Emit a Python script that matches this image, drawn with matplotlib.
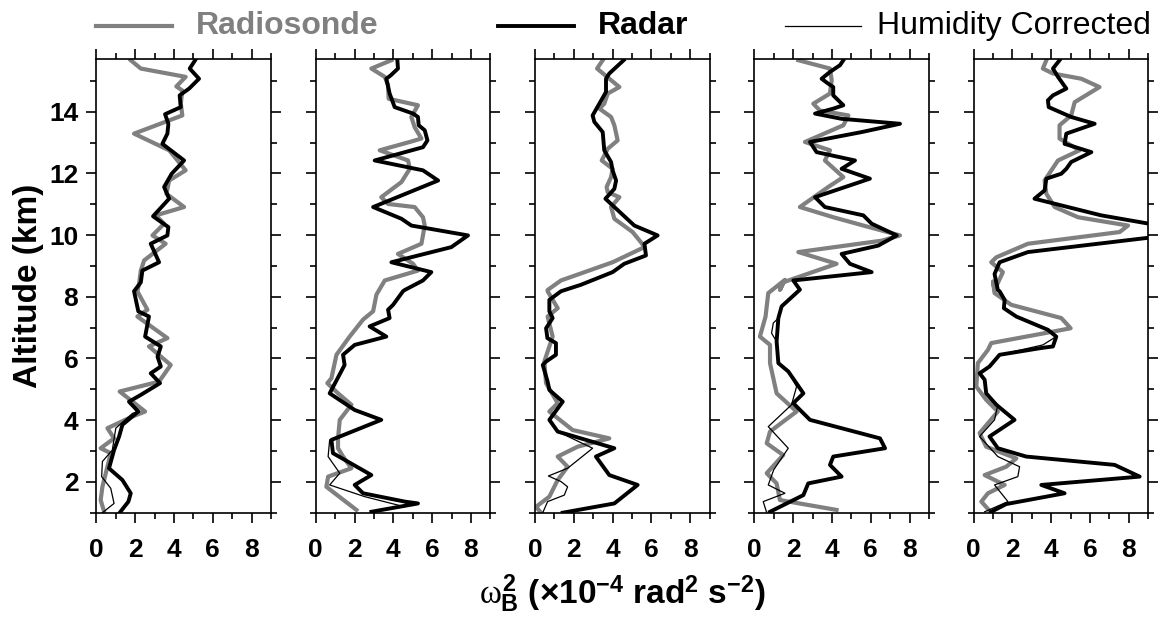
import matplotlib
matplotlib.use("Agg")
import matplotlib.pyplot as plt
from matplotlib.lines import Line2D
from matplotlib.ticker import MultipleLocator

plt.rcParams['font.family'] = ['Liberation Sans', 'DejaVu Sans']
plt.rcParams['mathtext.fontset'] = 'custom'
plt.rcParams['mathtext.rm'] = 'Liberation Sans:bold'
plt.rcParams['mathtext.bf'] = 'Liberation Sans:bold'
plt.rcParams['mathtext.it'] = 'Liberation Serif'

# ---- data: (omega_B^2, altitude km) ----
# panel 1
sonde1_x = [1.77, 2.29, 4.60, 4.12, 4.43, 4.35, 4.43, 1.94, 3.75, 4.60, 3.75, 3.61, 4.52, 3.06, 3.49, 2.89, 3.57, 2.46, 2.29, 2.20,
            2.11, 2.63, 2.11, 3.66, 2.71, 3.83, 3.23, 1.20, 2.51, 1.86, 0.57, 0.91, 0.22, 0.74, 0.31, 0.22, 0.40]
sonde1_z = [15.67, 15.4, 15.13, 14.82, 14.69, 14.26, 13.88, 13.29, 12.75, 12.10, 11.77, 11.34, 10.91, 10.64, 10.37, 9.99, 9.72, 9.18, 8.85, 8.42,
            8.18, 7.58, 7.36, 6.66, 6.39, 5.79, 5.25, 4.93, 4.28, 4.12, 3.74, 3.41, 3.09, 2.93, 1.84, 1.41, 1.03]
radar1_x = [5.09, 4.81, 5.29, 4.78, 4.29, 4.35, 3.54, 3.71, 3.66, 3.40, 4.52, 3.88, 3.49, 3.75, 2.92, 3.71, 3.66, 2.80, 3.23, 2.37, 2.29,
            1.94, 2.16, 2.71, 2.51, 3.32, 3.15, 3.32, 2.80, 3.28, 2.29, 1.68, 2.16, 1.34, 1.17, 0.91, 0.65, 1.34, 1.77, 1.65, 1.20]
radar1_z = [15.67, 15.4, 15.07, 14.75, 14.53, 14.15, 13.92, 13.61, 13.29, 12.96, 12.42, 11.99, 11.56, 11.18, 10.61, 10.26, 9.99, 9.72, 9.12, 8.85, 8.47,
            8.18, 7.53, 7.36, 6.71, 6.39, 6.06, 5.74, 5.52, 5.20, 4.82, 4.60, 4.28, 3.85, 3.47, 3.03, 2.44, 2.06, 1.63, 1.36, 1.0]
humid1_x = [2.16, 1.86, 1.00, 0.82, 0.31, 0.27, 0.74, 0.91, 0.31]
humid1_z = [4.28, 4.22, 3.74, 3.03, 2.66, 2.17, 1.79, 1.30, 1.0]

# panel 2
sonde2_x = [3.90, 2.87, 3.56, 3.73, 3.76, 5.27, 4.93, 5.10, 5.45, 4.85, 3.30, 4.76, 4.85, 4.42, 3.38, 3.73, 5.10, 5.53, 5.62, 5.45, 4.24, 5.02, 5.27, 3.56,
            3.13, 2.96, 2.44, 1.75, 1.07, 0.81, 0.60, 1.15, 1.84, 1.24, 1.15, 1.15, 1.41, 1.84, 0.64, 0.55, 2.10]
sonde2_z = [15.67, 15.4, 15.13, 14.86, 14.42, 14.21, 13.83, 13.50, 13.13, 13.02, 12.75, 12.42, 12.15, 11.72, 11.23, 11.01, 10.91, 10.58, 10.31, 9.72, 9.39, 9.07, 8.85, 8.53,
            8.07, 7.53, 7.26, 6.71, 6.12, 5.36, 5.20, 4.87, 4.50, 4.01, 3.41, 3.09, 2.82, 2.44, 2.17, 1.84, 1.09]
radar2_x = [4.21, 4.24, 3.87, 3.64, 3.81, 4.07, 5.02, 5.27, 5.31, 5.62, 5.76, 5.53, 3.04, 5.53, 6.31, 2.96, 4.42, 4.93, 7.85, 6.99, 3.90, 5.96, 5.53, 4.59,
            4.50, 3.99, 3.73, 3.81, 2.78, 3.64, 2.01, 1.41, 1.49, 0.72, 2.01, 3.38, 0.81, 0.89, 2.87, 2.01, 2.44, 4.59, 5.27, 2.87]
radar2_z = [15.67, 15.4, 15.18, 15.07, 14.59, 14.15, 13.94, 13.83, 13.56, 13.40, 13.07, 12.85, 12.42, 12.10, 11.77, 10.91, 10.53, 10.31, 9.99, 9.61, 9.12, 8.80, 8.53, 8.22,
            8.18, 7.74, 7.58, 7.31, 7.04, 6.71, 6.44, 6.12, 5.79, 4.87, 4.33, 4.01, 3.36, 2.93, 2.22, 1.90, 1.63, 1.36, 1.30, 1.03]
humid2_x = [3.38, 0.72, 0.64, 1.24, 0.72, 2.53, 4.59, 2.87]
humid2_z = [4.01, 3.36, 2.82, 2.28, 1.90, 1.52, 1.19, 1.03]

# panel 3
sonde3_x = [3.49, 3.20, 4.35, 3.75, 3.57, 3.32, 3.92, 4.09, 4.26, 3.75, 3.44, 4.00, 3.92, 3.69, 3.75, 4.35, 3.92, 4.09, 5.03, 5.46, 5.64, 4.00, 1.34, 0.65,
            0.65, 1.17, 0.65, 0.91, 0.48, 0.57, 1.17, 0.74, 1.94, 3.83, 2.20, 1.17, 1.68, 1.17, 0.74, 0.05, 0.31]
sonde3_z = [15.67, 15.4, 14.80, 14.59, 14.26, 14.10, 13.83, 13.56, 13.07, 12.80, 12.42, 12.15, 11.88, 11.56, 11.39, 11.23, 10.91, 10.53, 10.10, 9.77, 9.61, 9.12, 8.53, 8.22,
            8.18, 7.63, 7.36, 6.71, 5.90, 5.20, 4.55, 4.28, 3.68, 3.41, 3.14, 2.82, 2.49, 2.06, 1.52, 1.19, 1.0]
radar3_x = [4.57, 3.83, 3.66, 3.66, 2.97, 3.06, 3.49, 3.57, 3.92, 4.00, 4.18, 4.09, 3.63, 3.92, 5.12, 6.32, 5.64, 5.72, 4.60, 4.00, 2.37,
            1.34, 0.74, 0.74, 0.91, 0.57, 0.64, 1.08, 1.08, 0.57, 0.40, 0.65, 0.74, 1.43, 0.74, 1.17, 4.09, 3.14, 3.83, 5.29, 4.09, 1.43]
radar3_z = [15.67, 15.24, 15.07, 14.64, 13.88, 13.67, 13.34, 12.75, 12.37, 12.10, 11.77, 11.50, 11.18, 11.01, 10.31, 9.99, 9.72, 9.34, 9.07, 8.80, 8.39,
            8.18, 7.90, 7.53, 7.31, 6.98, 6.66, 6.50, 6.12, 5.90, 5.79, 5.25, 4.98, 4.60, 4.01, 3.63, 3.09, 2.82, 2.22, 1.90, 1.30, 1.0]
humid3_x = [1.17, 2.97, 1.68, 0.69, 1.34, 1.68, 1.51, 0.65, 0.40]
humid3_z = [3.63, 3.09, 2.44, 2.19, 2.01, 1.84, 1.57, 1.36, 1.0]

# panel 4
sonde4_x = [2.27, 3.90, 3.99, 3.90, 3.04, 3.38, 4.85, 4.59, 2.61, 3.90, 3.64, 4.59, 3.81, 2.35, 4.07, 5.62, 7.51, 6.57, 2.27, 4.24, 1.49, 1.32,
            1.58, 0.72, 0.58, 0.29, 0.81, 0.81, 1.15, 2.18, 0.81, 0.64, 1.49, 0.64, 1.15, 1.32, 4.24]
sonde4_z = [15.67, 15.40, 15.02, 14.59, 14.26, 14.04, 13.88, 13.56, 13.02, 12.75, 12.42, 11.88, 11.56, 10.91, 10.58, 10.31, 9.99, 9.82, 9.45, 9.07, 8.47, 8.22,
            8.55, 8.12, 7.36, 6.71, 6.44, 5.85, 4.87, 4.28, 3.63, 3.25, 2.87, 2.28, 1.95, 1.41, 1.09]
radar4_x = [4.59, 4.42, 3.90, 3.47, 3.81, 4.07, 4.07, 4.59, 4.07, 3.13, 4.50, 7.51, 5.53, 2.87, 3.21, 5.19, 4.50, 5.96, 3.13, 3.64, 5.62, 6.05, 7.34, 6.39,
            4.50, 4.93, 6.05, 2.01, 2.10, 2.35, 1.41, 1.24, 1.15, 1.24, 1.75, 2.53, 2.01, 2.87, 6.48, 6.74, 4.07, 3.90, 4.50, 2.78, 2.53, 0.81]
radar4_z = [15.67, 15.51, 15.29, 15.07, 14.91, 14.80, 14.53, 14.21, 14.10, 13.94, 13.77, 13.61, 13.34, 13.02, 12.69, 12.42, 12.15, 11.83, 11.23, 10.91, 10.64, 10.37, 9.99, 9.66,
            9.39, 9.07, 8.80, 8.53, 8.45, 8.23, 7.69, 7.31, 6.55, 5.85, 5.58, 4.87, 4.55, 4.01, 3.41, 3.09, 2.82, 2.55, 2.17, 1.95, 1.57, 1.03]
humid4_x = [1.24, 0.98, 0.89, 1.15, 1.24, 1.75, 2.18, 1.92, 0.72, 1.75, 1.00, 0.72, 1.58, 0.46, 0.64]
humid4_z = [7.31, 7.15, 6.82, 6.55, 5.85, 5.58, 5.09, 4.50, 3.79, 3.09, 2.39, 1.90, 1.63, 1.36, 1.0]

# panel 5
sonde5_x = [3.75, 3.57, 4.09, 5.55, 6.49, 5.21, 5.03, 4.43, 4.43, 5.46, 4.35, 3.66, 3.75, 4.18, 5.38, 7.96, 7.53, 2.80, 1.17, 0.91, 1.51, 1.08,
            1.00, 1.08, 1.94, 4.52, 5.00, 3.66, 0.91, 0.74, 0.22, 0.14, 0.65, 1.25, 0.31, 0.65, 2.20, 1.68, 0.57, 1.60, 0.74, 0.40, 0.91]
sonde5_z = [15.67, 15.40, 15.24, 15.07, 14.80, 14.31, 13.88, 13.56, 13.13, 12.75, 12.42, 11.77, 11.34, 10.91, 10.58, 10.31, 10.10, 9.72, 9.28, 9.12, 8.80, 8.22,
            8.50, 8.12, 7.74, 7.31, 6.98, 6.82, 6.50, 6.28, 5.85, 5.09, 4.66, 4.28, 3.58, 3.14, 2.76, 2.49, 2.22, 1.90, 1.63, 1.36, 1.0]
radar5_x = [4.43, 4.09, 4.35, 4.78, 4.09, 3.83, 3.87, 5.03, 6.24, 4.78, 4.69, 6.07, 5.03, 4.78, 4.52, 3.75, 3.66, 3.14, 6.58, 11.5, 2.80, 1.34, 1.08, 1.25,
            1.34, 1.60, 1.56, 2.20, 3.83, 4.26, 4.09, 3.49, 1.34, 0.82, 0.31, 0.57, 0.65, 1.17, 2.11, 0.82, 1.25, 2.71, 7.27, 8.56, 3.49, 4.69, 1.68, 0.91]
radar5_z = [15.67, 15.40, 15.13, 14.75, 14.53, 14.37, 14.15, 13.83, 13.61, 13.29, 12.96, 12.69, 12.37, 12.15, 11.99, 11.83, 11.45, 11.18, 10.64, 10.10, 9.45, 9.12, 8.74, 8.22,
            8.18, 7.90, 7.63, 7.36, 6.93, 6.71, 6.39, 6.34, 6.12, 5.74, 5.52, 5.31, 4.87, 4.50, 4.01, 3.47, 3.09, 2.82, 2.55, 2.17, 1.90, 1.63, 1.28, 1.03]
humid5_x = [4.26, 3.57, 1.34, 0.82, 0.31, 0.57, 0.65, 1.25, 1.08, 0.31, 1.25, 2.37, 2.28, 1.08, 1.77, 0.57]
humid5_z = [6.71, 6.44, 6.12, 5.74, 5.52, 5.31, 4.87, 4.50, 4.01, 3.47, 2.82, 2.49, 2.17, 1.90, 1.36, 1.03]

panels = [
    (sonde1_x, sonde1_z, radar1_x, radar1_z, humid1_x, humid1_z),
    (sonde2_x, sonde2_z, radar2_x, radar2_z, humid2_x, humid2_z),
    (sonde3_x, sonde3_z, radar3_x, radar3_z, humid3_x, humid3_z),
    (sonde4_x, sonde4_z, radar4_x, radar4_z, humid4_x, humid4_z),
    (sonde5_x, sonde5_z, radar5_x, radar5_z, humid5_x, humid5_z),
]
legend_labels = ['Radiosonde', 'Radar', 'Humidity Corrected']

gray = '#808080'
fig = plt.figure(figsize=(11.61, 6.23), dpi=100)

W, H = 1161.0, 623.0
ax_w = 174.6 / W
ax_h = (512.7 - 59.3) / H
ax_b = (H - 512.7) / H

for i, (sx, sz, rx, rz, hx, hz) in enumerate(panels):
    ax = fig.add_axes([(96.4 + 219.3 * i) / W, ax_b, ax_w, ax_h])
    ax.plot(sx, sz, color=gray, lw=3.0)
    ax.plot(hx, hz, color='black', lw=0.9)
    ax.plot(rx, rz, color='black', lw=2.8)
    ax.set_xlim(0, 9)
    ax.set_ylim(1.0, 15.7)
    ax.xaxis.set_major_locator(MultipleLocator(2))
    ax.xaxis.set_minor_locator(MultipleLocator(1))
    ax.yaxis.set_major_locator(MultipleLocator(2))
    ax.yaxis.set_minor_locator(MultipleLocator(1))
    ax.tick_params(which='both', direction='out', top=True, right=True, width=1.2)
    ax.tick_params(which='major', length=7, labelsize=19)
    ax.tick_params(axis='x', which='major', pad=11)
    ax.tick_params(axis='y', which='major', pad=6)
    ax.tick_params(which='minor', length=4)
    for lab in ax.get_xticklabels() + ax.get_yticklabels():
        lab.set_fontweight('bold')
    for sp in ax.spines.values():
        sp.set_linewidth(1.2)
    if i == 0:
        ax.set_ylabel('Altitude (km)', fontsize=24, fontweight='bold', labelpad=4)
    else:
        ax.set_yticklabels([])

fig.text(0.536, 0.047, r'$\omega_\mathbf{B}^\mathbf{2}$ (×10$^{\mathbf{-4}}$ rad$^\mathbf{2}$ s$^{\mathbf{-2}}$)',
         fontsize=24, fontweight='bold', ha='center', va='center')

# legend drawn across the top
leg_y = 1 - 26 / H
leg_lines = [(96, 172, gray, 3.0), (498, 574, 'black', 2.8), (785, 861, 'black', 0.9)]
leg_text_x = [196, 598, 877]
leg_styles = [(gray, 'bold'), ('black', 'bold'), ('black', 'normal')]
for (x0, x1, c, lw), tx, (tc, fw), lab in zip(leg_lines, leg_text_x, leg_styles, legend_labels):
    fig.add_artist(Line2D([x0 / W, x1 / W], [leg_y, leg_y], color=c, lw=lw, transform=fig.transFigure))
    fig.text(tx / W, leg_y, lab, color=tc, fontweight=fw, fontsize=23, ha='left', va='center')

fig.savefig('out.png', dpi=100)
